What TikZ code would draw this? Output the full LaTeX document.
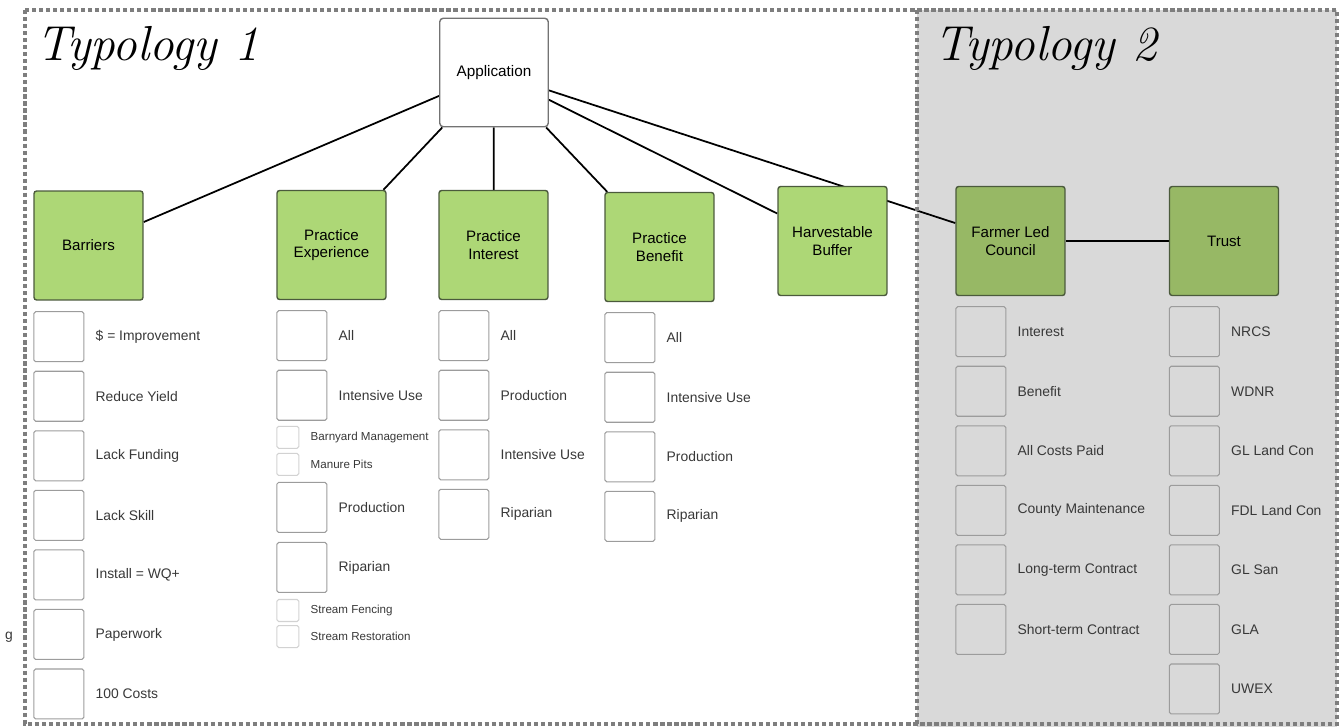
\documentclass[tikz,border=0pt]{standalone}
\usepackage{fontspec}
\setsansfont{Liberation Sans}
\usepackage{xcolor}
\usetikzlibrary{positioning,backgrounds}

\definecolor{leafgreen}{HTML}{ADD776}
\definecolor{mossgreen}{HTML}{97B865}
\definecolor{edgegreen}{HTML}{4B5A3C}
\definecolor{boxgray}{HTML}{9C9C9C}
\definecolor{framegray}{HTML}{7E7E7E}
\definecolor{panelgray}{HTML}{D9D9D9}

\begin{document}
\begin{tikzpicture}[x=0.02cm, y=-0.02cm, font=\sffamily,
    topic/.style={draw=edgegreen, line width=0.8pt, rounded corners=1.5pt, fill=leafgreen,
        minimum size=2.18cm, inner sep=0pt, align=center, font=\sffamily\fontsize{8.6}{10}\selectfont},
    item/.style={draw=boxgray, line width=0.6pt, rounded corners=1pt, minimum size=1cm, inner sep=0pt},
    tinyitem/.style={item, draw=boxgray!45, minimum size=0.44cm},
    itemtext/.style={inner sep=0pt, text=black!78, font=\sffamily\fontsize{7.9}{9}\selectfont},
    tinytext/.style={itemtext, font=\sffamily\fontsize{6.6}{8}\selectfont},
    typology/.style={anchor=base west, inner sep=0pt, font=\rmfamily\itshape\fontsize{28}{30}\selectfont},
    link/.style={draw=black, line width=1pt},
    frame/.style={framegray, line width=2pt, dash pattern=on 2.4pt off 1.6pt}]
    \useasboundingbox (0,0) rectangle (1340,727);

    % headings
    \node (typ1) [typology] at (36,60) {Typology 1};
    \node (typ2) [typology] at (934,60) {Typology 2};
    \node (g) [itemtext] at (9,637) {g};

    % top of the tree
    \node (app) [draw=black!55, line width=0.8pt, rounded corners=2pt, fill=white, minimum size=2.17cm,
        font=\sffamily\fontsize{8.7}{10}\selectfont] at (494,72.5) {Application};
    \node (barriers) [topic] at (88.5,245.5) {Barriers};
    \node (pexp) [topic] at (331.5,245) {Practice\\Experience};
    \node (pint) [topic] at (493.5,245) {Practice\\Interest};
    \node (pben) [topic] at (659.5,247) {Practice\\Benefit};
    \node (harv) [topic] at (832.5,241) {Harvestable\\Buffer};
    \node (council) [topic, fill=mossgreen] at (1010.5,241) {Farmer Led\\Council};
    \node (trust) [topic, fill=mossgreen] at (1224,241) {Trust};

    % Barriers
    \node (bar1) [item, below=0.21cm of barriers.south west, anchor=north west] {};
    \node (bar1t) [itemtext, right=0.22cm of bar1] {\$ = Improvement};
    \node (bar2) [item, below=0.17cm of bar1] {};
    \node (bar2t) [itemtext, right=0.22cm of bar2] {Reduce Yield};
    \node (bar3) [item, below=0.17cm of bar2] {};
    \node (bar3t) [itemtext, right=0.22cm of bar3] {Lack Funding};
    \node (bar4) [item, below=0.17cm of bar3] {};
    \node (bar4t) [itemtext, right=0.22cm of bar4] {Lack Skill};
    \node (bar5) [item, below=0.17cm of bar4] {};
    \node (bar5t) [itemtext, right=0.22cm of bar5] {Install = WQ+};
    \node (bar6) [item, below=0.17cm of bar5] {};
    \node (bar6t) [itemtext, right=0.22cm of bar6] {Paperwork};
    \node (bar7) [item, below=0.17cm of bar6] {};
    \node (bar7t) [itemtext, right=0.22cm of bar7] {100 Costs};

    % Practice Experience
    \node (pexp1) [item, below=0.2cm of pexp.south west, anchor=north west] {};
    \node (pexp1t) [itemtext, right=0.22cm of pexp1] {All};
    \node (pexp2) [item, below=0.17cm of pexp1] {};
    \node (pexp2t) [itemtext, right=0.22cm of pexp2] {Intensive Use};
    \node (pexp3) [tinyitem, below=0.1cm of pexp2.south west, anchor=north west] {};
    \node (pexp3t) [tinytext, right=0.22cm of pexp3] {Barnyard Management};
    \node (pexp4) [tinyitem, below=0.08cm of pexp3] {};
    \node (pexp4t) [tinytext, right=0.22cm of pexp4] {Manure Pits};
    \node (pexp5) [item, below=0.12cm of pexp4.south west, anchor=north west] {};
    \node (pexp5t) [itemtext, right=0.22cm of pexp5] {Production};
    \node (pexp6) [item, below=0.18cm of pexp5] {};
    \node (pexp6t) [itemtext, right=0.22cm of pexp6] {Riparian};
    \node (pexp7) [tinyitem, below=0.12cm of pexp6.south west, anchor=north west] {};
    \node (pexp7t) [tinytext, right=0.22cm of pexp7] {Stream Fencing};
    \node (pexp8) [tinyitem, below=0.06cm of pexp7] {};
    \node (pexp8t) [tinytext, right=0.22cm of pexp8] {Stream Restoration};

    % Practice Interest
    \node (pint1) [item, below=0.2cm of pint.south west, anchor=north west] {};
    \node (pint1t) [itemtext, right=0.22cm of pint1] {All};
    \node (pint2) [item, below=0.17cm of pint1] {};
    \node (pint2t) [itemtext, right=0.22cm of pint2] {Production};
    \node (pint3) [item, below=0.17cm of pint2] {};
    \node (pint3t) [itemtext, right=0.22cm of pint3] {Intensive Use};
    \node (pint4) [item, below=0.17cm of pint3] {};
    \node (pint4t) [itemtext, right=0.22cm of pint4] {Riparian};

    % Practice Benefit
    \node (pben1) [item, below=0.2cm of pben.south west, anchor=north west] {};
    \node (pben1t) [itemtext, right=0.22cm of pben1] {All};
    \node (pben2) [item, below=0.17cm of pben1] {};
    \node (pben2t) [itemtext, right=0.22cm of pben2] {Intensive Use};
    \node (pben3) [item, below=0.17cm of pben2] {};
    \node (pben3t) [itemtext, right=0.22cm of pben3] {Production};
    \node (pben4) [item, below=0.17cm of pben3] {};
    \node (pben4t) [itemtext, right=0.22cm of pben4] {Riparian};

    % Farmer Led Council
    \node (coun1) [item, below=0.2cm of council.south west, anchor=north west] {};
    \node (coun1t) [itemtext, right=0.22cm of coun1] {Interest};
    \node (coun2) [item, below=0.17cm of coun1] {};
    \node (coun2t) [itemtext, right=0.22cm of coun2] {Benefit};
    \node (coun3) [item, below=0.17cm of coun2] {};
    \node (coun3t) [itemtext, right=0.22cm of coun3] {All Costs Paid};
    \node (coun4) [item, below=0.17cm of coun3] {};
    \node (coun4t) [itemtext, right=0.22cm of coun4] {County Maintenance};
    \node (coun5) [item, below=0.17cm of coun4] {};
    \node (coun5t) [itemtext, right=0.22cm of coun5] {Long-term Contract};
    \node (coun6) [item, below=0.17cm of coun5] {};
    \node (coun6t) [itemtext, right=0.22cm of coun6] {Short-term Contract};

    % Trust
    \node (tru1) [item, below=0.2cm of trust.south west, anchor=north west] {};
    \node (tru1t) [itemtext, right=0.22cm of tru1] {NRCS};
    \node (tru2) [item, below=0.17cm of tru1] {};
    \node (tru2t) [itemtext, right=0.22cm of tru2] {WDNR};
    \node (tru3) [item, below=0.17cm of tru2] {};
    \node (tru3t) [itemtext, right=0.22cm of tru3] {GL Land Con};
    \node (tru4) [item, below=0.17cm of tru3] {};
    \node (tru4t) [itemtext, right=0.22cm of tru4] {FDL Land Con};
    \node (tru5) [item, below=0.17cm of tru4] {};
    \node (tru5t) [itemtext, right=0.22cm of tru5] {GL San};
    \node (tru6) [item, below=0.17cm of tru5] {};
    \node (tru6t) [itemtext, right=0.22cm of tru6] {GLA};
    \node (tru7) [item, below=0.17cm of tru6] {};
    \node (tru7t) [itemtext, right=0.22cm of tru7] {UWEX};

    % panel and connectors behind the boxes
    \begin{scope}[on background layer]
        \fill[panelgray] (917,10) rectangle (1337,727);
        \draw[link] (app) -- (barriers);
        \draw[link] (app) -- (pexp);
        \draw[link] (app) -- (pint);
        \draw[link] (app) -- (pben);
        \draw[link] (app) -- (harv);
        \draw[link] (app) -- (council);
        \draw[link] (council) -- (trust);
    \end{scope}

    % dotted frames
    \draw[frame] (25,10) rectangle (1337,724);
    \draw[frame] (917,10) -- (917,724);
\end{tikzpicture}
\end{document}
